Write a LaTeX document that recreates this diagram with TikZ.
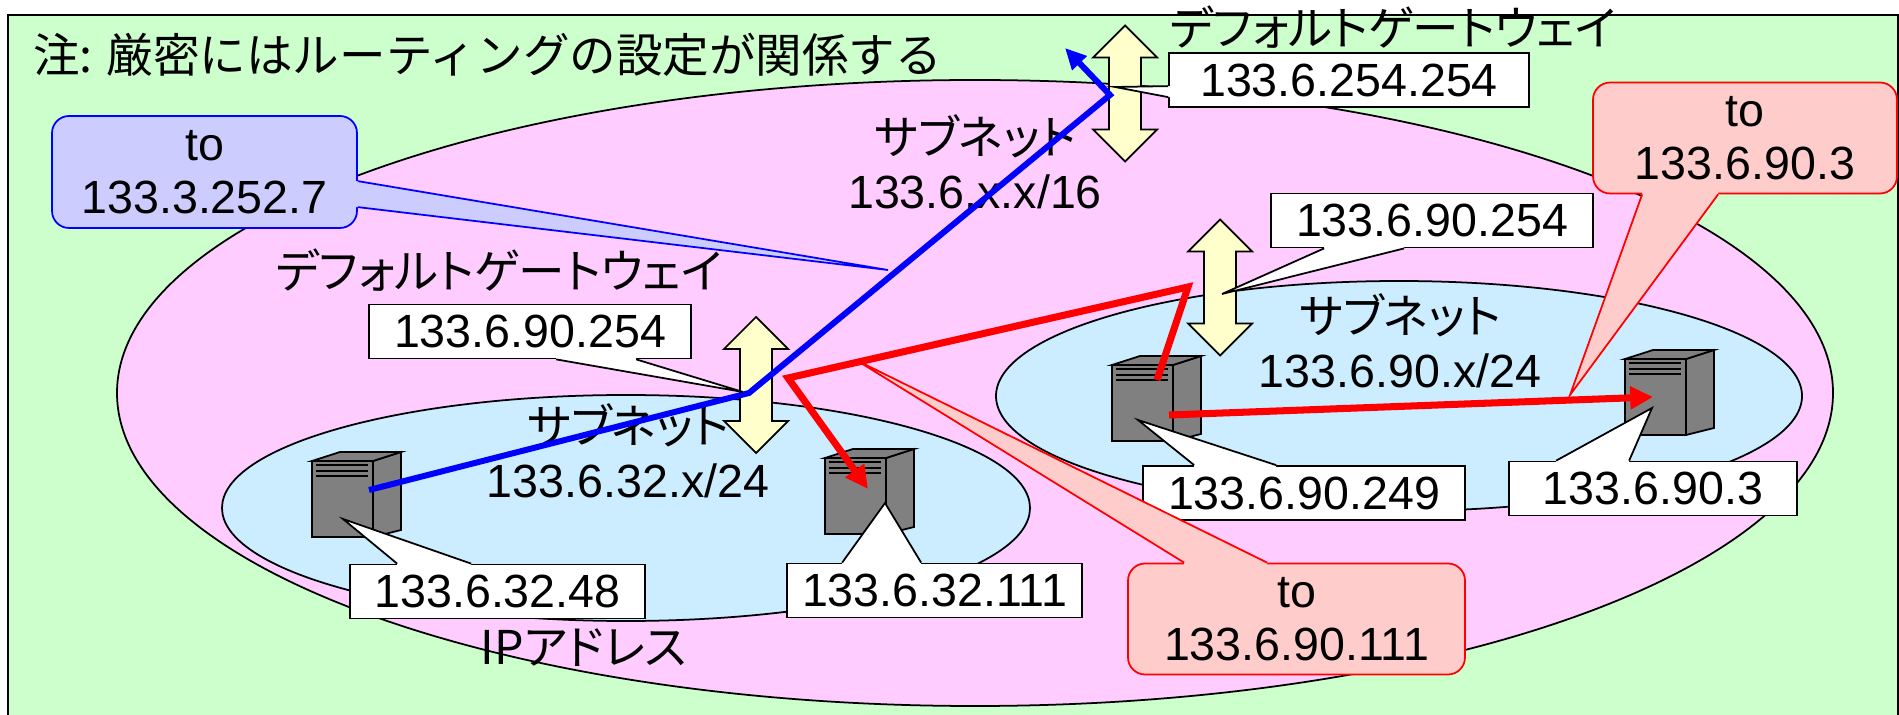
\documentclass[tikz,border=0pt]{standalone}
\usepackage{fontspec}
\setmainfont{Liberation Sans}
\newfontfamily\jp[RawFeature=+palt]{Noto Sans CJK JP}
\newfontfamily\jpwide{Noto Sans CJK JP}
\usetikzlibrary{arrows.meta,calc}

\definecolor{bggreen}{HTML}{CCFFCC}
\definecolor{ippink}{HTML}{FFCCFF}
\definecolor{netblue}{HTML}{CCECFF}
\definecolor{gwyellow}{HTML}{FFFFCC}
\definecolor{tobluefill}{HTML}{CCCCFF}
\definecolor{toredfill}{HTML}{FFCCCC}
\definecolor{srvgray}{HTML}{808080}

\newcommand{\wedgeto}[6]{%
  \fill[#1, draw=none] ($(#2)+(#3)$) -- (#6) -- ($(#2)+(#4)$) -- ($(#2)+(#4)+(#5)$) -- ($(#2)+(#3)+(#5)$) -- cycle;
  \draw[#1, fill=none] ($(#2)+(#3)$) -- (#6) -- ($(#2)+(#4)$);}

\tikzset{
  every node/.style={font=\fontsize{26.5}{30}\selectfont, inner sep=0pt},
  outline/.style={draw=black, line width=1pt},
  netlabel/.style={align=center, font=\fontsize{26.5}{31}\selectfont},
  addr/.style={outline, fill=white, minimum height=1.08cm},
  addrwedge/.style={draw=black, fill=white, line width=1pt},
  toblue/.style={draw=blue, fill=tobluefill, line width=1pt, rounded corners=0.34cm, align=center, minimum height=2.24cm},
  bluewedge/.style={draw=blue, fill=tobluefill, line width=1pt},
  tored/.style={draw=red, fill=toredfill, line width=1pt, rounded corners=0.34cm, align=center, minimum height=2.22cm},
  redwedge/.style={draw=red, fill=toredfill, line width=1pt},
  bluepath/.style={draw=blue, line width=3.4pt, -{Triangle[length=12pt,width=11pt]}},
  redpath/.style={draw=red, line width=4pt, -{Triangle[length=13pt,width=12.5pt]}},
  server/.pic={
    \draw[outline, fill=srvgray] (0,0) rectangle (61,76);
    \draw[outline, fill=srvgray] (61,0) -- (89,-9) -- (89,69) -- (61,76) -- cycle;
    \draw[outline, fill=srvgray] (0,0) -- (28,-9) -- (89,-9) -- (61,0) -- cycle;
    \foreach \v in {4,10,15} \draw[line width=1.4pt] (4,\v) -- (56,\v);
  },
  gateway/.pic={
    \draw[outline, fill=gwyellow] (0,-68) -- (32,-36) -- (16,-36) -- (16,36) -- (32,36) -- (0,68)
      -- (-32,36) -- (-16,36) -- (-16,-36) -- (-32,-36) -- cycle;
  }
}

\begin{document}
\begin{tikzpicture}[x=0.02cm, y=-0.02cm]
\useasboundingbox (0,0) rectangle (1899,715);

\draw[outline, fill=bggreen] (8,15) rectangle (1898,740);
\draw[outline, fill=ippink] (975,393) ellipse [x radius=858, y radius=313];
\draw[outline, fill=netblue] (626,508) ellipse [x radius=404, y radius=113];
\draw[outline, fill=netblue] (1399,396) ellipse [x radius=403, y radius=115];

\node[anchor=west] (note) at (33,55) {\jpwide 注: 厳密にはルーティングの設定が関係する};
\node (gwTname) at (1393,27) {\jp デフォルトゲートウェイ};
\node (gwLname) at (499,270) {\jp デフォルトゲートウェイ};
\node[netlabel] (netB) at (975,162) {{\jp サブネット}\\133.6.x.x/16};
\node[netlabel] (netA) at (628,451) {{\jp サブネット}\\133.6.32.x/24};
\node[netlabel] (netC) at (1400,341) {{\jp サブネット}\\133.6.90.x/24};
\node (iprange) at (584,648) {\jp IPアドレス};

\pic (srvA) at (312,461) {server};
\pic (srvB) at (825,458) {server};
\pic (srvC) at (1112,365) {server};
\pic (srvD) at (1625,359) {server};

\pic (gwL) at (756,385) {gateway};
\pic (gwT) at (1125,93.5) {gateway};
\pic (gwR) at (1220,287.5) {gateway};

\coordinate (srvAout) at (369,490);
\coordinate (gwLbend) at (749,393);
\coordinate (gwTbend) at (1110,95);
\coordinate (webend) at (1065,48);
\coordinate (srvCtop) at (1157,380);
\coordinate (gwRbend) at (1188,287);
\coordinate (gwLred) at (788,378);
\coordinate (srvBin) at (868,489);
\coordinate (srvCout) at (1169,415);
\coordinate (srvDin) at (1653,397);

\draw[bluepath] (srvAout) -- (gwLbend) -- (gwTbend) -- (webend);
\draw[redpath] (srvCtop) -- (gwRbend) -- (gwLred) -- (srvBin);
\draw[redpath] (srvCout) -- (srvDin);

\coordinate (gwTtip) at (1115,87);
\coordinate (gwLtip) at (743,392);
\coordinate (gwRtip) at (1222,294);
\coordinate (srvAtip) at (343,519);
\coordinate (srvBtip) at (885,503);
\coordinate (srvCtip) at (1138,420);
\coordinate (srvDtip) at (1652,408);
\coordinate (webtip) at (888,270);
\coordinate (redDtip) at (1570,395);
\coordinate (redBtip) at (856,360);

\node[addr, minimum width=7.2cm] (gwTaddr) at (1349,80) {133.6.254.254};
\wedgeto{addrwedge}{gwTaddr.north west}{0,34}{0,45}{4,0}{gwTtip}
\node[addr, minimum width=6.44cm] (gwLaddr) at (530,331.5) {133.6.90.254};
\wedgeto{addrwedge}{gwLaddr.south west}{188,0}{268,0}{0,-4}{gwLtip}
\node[addr, minimum width=6.44cm] (gwRaddr) at (1432,220.5) {133.6.90.254};
\wedgeto{addrwedge}{gwRaddr.south west}{54,0}{134,0}{0,-4}{gwRtip}
\node[addr, minimum width=5.9cm] (srvAaddr) at (497.5,591.5) {133.6.32.48};
\wedgeto{addrwedge}{srvAaddr.north west}{48,0}{122,0}{0,4}{srvAtip}
\node[addr, minimum width=5.9cm] (srvBaddr) at (934.5,590.5) {133.6.32.111};
\wedgeto{addrwedge}{srvBaddr.north west}{56,0}{135,0}{0,4}{srvBtip}
\node[addr, minimum width=6.44cm] (srvCaddr) at (1304,493) {133.6.90.249};
\wedgeto{addrwedge}{srvCaddr.north west}{52,0}{134,0}{0,4}{srvCtip}
\node[addr, minimum width=5.76cm] (srvDaddr) at (1653,488.5) {133.6.90.3};
\wedgeto{addrwedge}{srvDaddr.north west}{48,0}{121,0}{0,4}{srvDtip}

\node[toblue, minimum width=6.1cm] (webto) at (204.5,172) {to\\133.3.252.7};
\wedgeto{bluewedge}{webto.north east}{0,66}{0,92}{-4,0}{webtip}
\node[tored, minimum width=6.08cm] (redDto) at (1745,138) {to\\133.6.90.3};
\wedgeto{redwedge}{redDto.south west}{50,0}{126,0}{0,-4}{redDtip}
\node[tored, minimum width=6.74cm] (redBto) at (1296.5,619) {to\\133.6.90.111};
\wedgeto{redwedge}{redBto.north west}{57,0}{140,0}{0,4}{redBtip}
\end{tikzpicture}
\end{document}
